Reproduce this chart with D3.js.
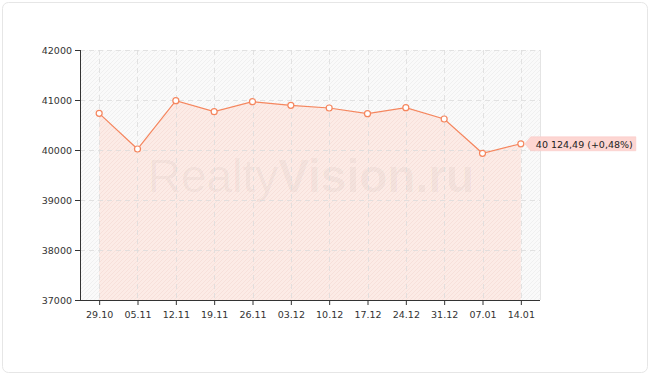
<!DOCTYPE html>
<html>
<head>
<meta charset="utf-8">
<script src="https://cdn.jsdelivr.net/npm/d3@7"></script>
<style>
  body { margin: 0; background: #fff; }
  svg { display: block; font-family: "DejaVu Sans", Verdana, sans-serif; }
</style>
</head>
<body>
<div id="chart"></div>
<script>
const dates = ['29.10', '05.11', '12.11', '19.11', '26.11', '03.12', '10.12', '17.12', '24.12', '31.12', '07.01', '14.01'];
const prices = [40733, 40020, 40987, 40766, 40967, 40893, 40840, 40727, 40847, 40620, 39934, 40124.49];
const yTicks = [37000, 38000, 39000, 40000, 41000, 42000];
const lastLabel = '40 124,49 (+0,48%)';

const width = 650;
const height = 375;
const margin = {top: 50, right: 110, bottom: 75, left: 80};
const w = width - margin.left - margin.right;
const h = height - margin.top - margin.bottom;

const svg = d3.select('#chart')
  .append('svg')
  .attr('width', width)
  .attr('height', height);

// outer frame
svg.append('rect')
  .attr('x', 2.5).attr('y', 2.5)
  .attr('width', width - 5).attr('height', height - 5)
  .attr('rx', 6)
  .style('fill', '#fff')
  .style('stroke', '#e6e6e6');

const defs = svg.append('defs');
function hatch(id, bg, fg) {
  const p = defs.append('pattern')
    .attr('id', id)
    .attr('patternUnits', 'userSpaceOnUse')
    .attr('width', 4).attr('height', 4);
  p.append('rect').attr('width', 4).attr('height', 4).style('fill', bg);
  p.append('path')
    .attr('d', 'M-1,1 l2,-2 M0,4 l4,-4 M3,5 l2,-2')
    .style('stroke', fg)
    .style('stroke-width', 1);
}
hatch('bgHatch', '#fafafa', '#f0f0f0');
hatch('areaHatch', '#fcebe6', '#f7e0da');

const g = svg.append('g')
  .attr('transform', 'translate(' + margin.left + ',' + margin.top + ')');

const xScale = d3.scalePoint().domain(dates).range([0, w]).padding(0.5);
const yScale = d3.scaleLinear().domain([37000, 42000]).range([h, 0]);

g.append('rect')
  .attr('width', w).attr('height', h)
  .style('fill', 'url(#bgHatch)');

// right border
g.append('line')
  .attr('x1', w + 0.5).attr('x2', w + 0.5)
  .attr('y1', 0).attr('y2', h)
  .style('stroke', '#e4e4e4');

const area = d3.area()
  .x((d, i) => xScale(dates[i]))
  .y0(h)
  .y1(d => yScale(d));

g.append('path')
  .datum(prices)
  .attr('d', area)
  .style('fill', 'url(#areaHatch)');

// watermark
const wm = g.append('text')
  .attr('x', 231)
  .attr('y', 142)
  .attr('text-anchor', 'middle')
  .style('font-family', '"Liberation Sans", Arial, sans-serif')
  .style('font-size', '46px')
  .style('fill', '#000')
  .style('fill-opacity', 0.045);
wm.append('tspan').text('Realty');
wm.append('tspan').style('font-weight', 'bold').text('Vision.ru');

// grid
g.append('g')
  .selectAll('line')
  .data(dates)
  .join('line')
  .attr('x1', d => Math.round(xScale(d)) + 0.5)
  .attr('x2', d => Math.round(xScale(d)) + 0.5)
  .attr('y1', 0).attr('y2', h)
  .style('stroke', '#dcdcdc')
  .style('stroke-opacity', 0.8)
  .style('stroke-dasharray', '5,4');

g.append('g')
  .selectAll('line')
  .data(yTicks.slice(1))
  .join('line')
  .attr('x1', 0).attr('x2', w)
  .attr('y1', d => Math.round(yScale(d)) + 0.5)
  .attr('y2', d => Math.round(yScale(d)) + 0.5)
  .style('stroke', '#dcdcdc')
  .style('stroke-opacity', 0.8)
  .style('stroke-dasharray', '5,4');

// line + points
const line = d3.line()
  .x((d, i) => xScale(dates[i]))
  .y(d => yScale(d));

g.append('path')
  .datum(prices)
  .attr('d', line)
  .style('fill', 'none')
  .style('stroke', '#f5865e')
  .style('stroke-width', '1.2px');

g.append('g')
  .selectAll('circle')
  .data(prices)
  .join('circle')
  .attr('cx', (d, i) => xScale(dates[i]))
  .attr('cy', d => yScale(d))
  .attr('r', 3)
  .style('fill', '#fff')
  .style('stroke', '#f5865e')
  .style('stroke-width', '1.2px');

// axes
const yAxis = d3.axisLeft(yScale).tickValues(yTicks).tickSize(5).tickPadding(3).tickFormat(d3.format('d'));
const xAxis = d3.axisBottom(xScale).tickSize(5).tickPadding(4);

const ya = g.append('g').call(yAxis);
const xa = g.append('g').attr('transform', 'translate(0,' + h + ')').call(xAxis);
[ya, xa].forEach(a => {
  a.select('.domain').attr('stroke', '#333').attr('d', a === ya ? 'M0.5,0V' + (h + 0.5) : 'M0,0.5H' + w);
  a.selectAll('.tick line').attr('stroke', '#333');
  a.selectAll('.tick text')
    .style('font-family', '"DejaVu Sans", Verdana, sans-serif')
    .style('font-size', '9.5px')
    .style('fill', '#333');
});
xa.selectAll('.tick text').attr('dy', '0.95em');

// last value label
const lx = xScale(dates[dates.length - 1]);
const ly = yScale(prices[prices.length - 1]);
const lbl = g.append('g').attr('transform', 'translate(' + (lx + 4) + ',' + ly + ')');
lbl.append('path')
  .attr('d', 'M0,0 L6,-7 H111 V7 H6 Z')
  .style('fill', '#fdd6d2')
  .style('stroke', '#fbc7c2')
  .style('stroke-width', 0.5);
lbl.append('text')
  .attr('x', 11)
  .attr('y', 4)
  .style('font-size', '9.5px')
  .style('fill', '#222')
  .text(lastLabel);
</script>
</body>
</html>
